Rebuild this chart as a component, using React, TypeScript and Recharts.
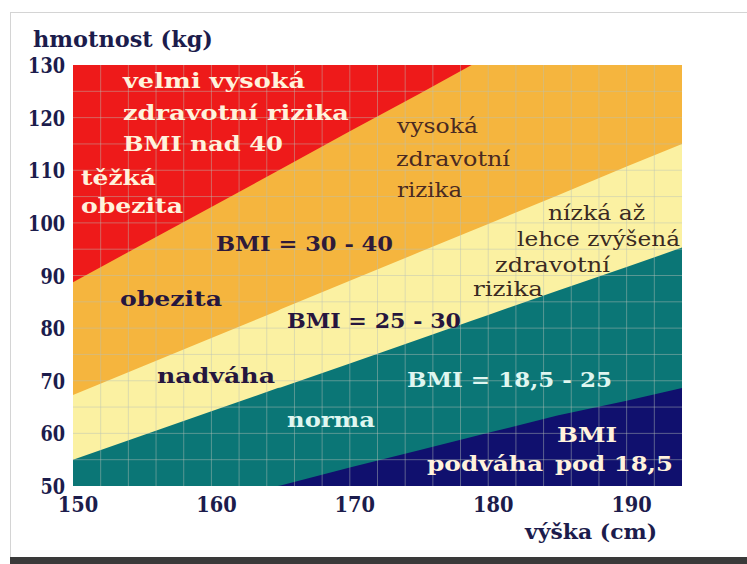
import React from 'react';
import {
    AreaChart,
    Area,
    XAxis,
    YAxis,
    ReferenceLine,
} from 'recharts';

// height in cm, read along the x axis
const heights = [150, 155, 160, 164.8, 165, 170, 175, 178.8, 180, 185, 190, 194];
// upper edge of every coloured band (kg)
const topEdge = [130, 130, 130, 130, 130, 130, 130, 130, 130, 130, 130, 130];
const bmi40 = [88.7, 95.9, 103.0, 109.9, 110.2, 117.4, 124.5, 130, 130, 130, 130, 130];
const bmi30 = [67.3, 72.7, 78.1, 83.3, 83.6, 89.0, 94.4, 98.5, 99.8, 105.2, 110.7, 115.0];
const bmi25 = [55.0, 59.6, 64.2, 68.6, 68.7, 73.3, 77.9, 81.4, 82.5, 87.1, 91.6, 95.3];
const bmi185 = [null, null, null, 50.0, 50.1, 53.5, 56.8, 59.3, 60.1, 63.4, 66.2, 68.6];

const xTicks = [150, 160, 170, 180, 190];
const yTicks = [50, 60, 70, 80, 90, 100, 110, 120, 130];
const gridX = [152, 154, 156, 158, 160, 162, 164, 166, 168, 170, 172, 174, 176, 178, 180, 182, 184, 186, 188, 190, 192];
const gridY = [55, 60, 65, 70, 75, 80, 85, 90, 95, 100, 105, 110, 115, 120, 125];

const data = heights.map((h, i) => ({
    h,
    top: topEdge[i],
    b40: bmi40[i],
    b30: bmi30[i],
    b25: bmi25[i],
    b185: bmi185[i],
}));

const FONT = '"DejaVu Serif", serif';
const NAVY = '#1c1c4c';

// text inside the bands: [text, x, baseline, width, colour, weight, size]
const labels: [string, number, number, number, string, number, number][] = [
    ['velmi vysoká', 123, 88, 182, '#fff2dc', 700, 21],
    ['zdravotní rizika', 123, 120, 226, '#fff2dc', 700, 21],
    ['BMI nad 40', 123, 151, 160, '#fff2dc', 700, 21],
    ['těžká', 81, 185, 75, '#fff2dc', 700, 21],
    ['obezita', 81, 213, 102, '#fff2dc', 700, 21],
    ['vysoká', 397, 133, 81, '#4a2a22', 400, 20],
    ['zdravotní', 396, 166, 114, '#4a2a22', 400, 20],
    ['rizika', 397, 197, 65, '#4a2a22', 400, 20],
    ['BMI = 30 - 40', 216, 251, 177, '#2e1a3a', 700, 20],
    ['nízká až', 548, 220, 97, '#3a2a22', 400, 20],
    ['lehce zvýšená', 517, 246, 163, '#3a2a22', 400, 20],
    ['zdravotní', 495, 272, 115, '#3a2a22', 400, 20],
    ['rizika', 473, 296, 70, '#3a2a22', 400, 20],
    ['obezita', 120, 306, 102, '#26163e', 700, 20],
    ['BMI = 25 - 30', 287, 328, 174, '#26163e', 700, 20],
    ['nadváha', 157, 383, 118, '#26163e', 700, 20],
    ['norma', 287, 427, 88, '#dff6f0', 700, 20],
    ['BMI = 18,5 - 25', 407, 387, 205, '#dff6f0', 700, 20],
    ['BMI', 557, 442, 60, '#fff2dc', 700, 21],
    ['podváha', 427, 471, 116, '#fff2dc', 700, 21],
    ['pod 18,5', 555, 471, 118, '#fff2dc', 700, 21],
];

const YTick = (props: any) => {
    const { x, y, payload } = props;
    const s = String(payload.value);
    return (
        <text
            x={x}
            y={y + 8}
            textAnchor="end"
            fontFamily={FONT}
            fontWeight={700}
            fontSize={22}
            fill={NAVY}
            textLength={s.length * 12.3}
            lengthAdjust="spacingAndGlyphs"
        >
            {s}
        </text>
    );
};

const XTick = (props: any) => {
    const { x, y, payload } = props;
    const s = String(payload.value);
    return (
        <text
            x={x + 5}
            y={y + 26}
            textAnchor="middle"
            fontFamily={FONT}
            fontWeight={700}
            fontSize={22}
            fill={NAVY}
            textLength={s.length * 13.5}
            lengthAdjust="spacingAndGlyphs"
        >
            {s}
        </text>
    );
};

const App = () => {
    return (
        <div style={{ position: 'absolute', left: 0, top: 0, width: 747, height: 564, background: '#fff' }}>
            <div
                style={{
                    position: 'absolute',
                    left: 10,
                    top: 12,
                    width: 737,
                    height: 545,
                    borderLeft: '1px solid #d4d4d4',
                    borderTop: '1px solid #d4d4d4',
                }}
            />
            <div style={{ position: 'absolute', left: 10, top: 557, width: 737, height: 7, background: '#3a3a3a' }} />
            <div style={{ position: 'absolute', left: 0, top: 0 }}>
                <AreaChart
                    width={747}
                    height={564}
                    data={data}
                    margin={{ top: 65, right: 65, bottom: 48, left: 0 }}
                >
                    <XAxis
                        type="number"
                        dataKey="h"
                        domain={[150, 194]}
                        ticks={xTicks}
                        axisLine={false}
                        tickLine={false}
                        tickSize={0}
                        tickMargin={0}
                        height={30}
                        tick={<XTick />}
                    />
                    <YAxis
                        type="number"
                        domain={[50, 130]}
                        ticks={yTicks}
                        axisLine={false}
                        tickLine={false}
                        tickSize={0}
                        tickMargin={8}
                        width={73}
                        tick={<YTick />}
                    />
                    <Area type="linear" dataKey="top" fill="#ee1a1a" fillOpacity={1} stroke="none" baseValue={50} isAnimationActive={false} dot={false} activeDot={false} />
                    <Area type="linear" dataKey="b40" fill="#f5b53e" fillOpacity={1} stroke="none" baseValue={50} isAnimationActive={false} dot={false} activeDot={false} />
                    <Area type="linear" dataKey="b30" fill="#fbf1a2" fillOpacity={1} stroke="none" baseValue={50} isAnimationActive={false} dot={false} activeDot={false} />
                    <Area type="linear" dataKey="b25" fill="#0b7676" fillOpacity={1} stroke="none" baseValue={50} isAnimationActive={false} dot={false} activeDot={false} />
                    <Area type="linear" dataKey="b185" fill="#10106e" fillOpacity={1} stroke="none" baseValue={50} isAnimationActive={false} dot={false} activeDot={false} />
                    {gridX.map((v) => (
                        <ReferenceLine key={'x' + v} x={v} stroke="#b8c0b8" strokeOpacity={0.45} />
                    ))}
                    {gridY.map((v) => (
                        <ReferenceLine key={'y' + v} y={v} stroke="#b8c0b8" strokeOpacity={0.45} />
                    ))}
                </AreaChart>
            </div>
            <svg width={747} height={564} style={{ position: 'absolute', left: 0, top: 0, pointerEvents: 'none' }}>
                <text x={33} y={47} fontFamily={FONT} fontWeight={700} fontSize={22} fill={NAVY} textLength={180} lengthAdjust="spacingAndGlyphs">
                    hmotnost (kg)
                </text>
                <text x={525} y={539} fontFamily={FONT} fontWeight={700} fontSize={21} fill={NAVY} textLength={132} lengthAdjust="spacingAndGlyphs">
                    výška (cm)
                </text>
                {labels.map(([t, x, y, w, c, fw, s], i) => (
                    <text
                        key={i}
                        x={x}
                        y={y}
                        fontFamily={FONT}
                        fontWeight={fw}
                        fontSize={s}
                        fill={c}
                        textLength={w}
                        lengthAdjust="spacingAndGlyphs"
                    >
                        {t}
                    </text>
                ))}
            </svg>
        </div>
    );
};

export default App;
